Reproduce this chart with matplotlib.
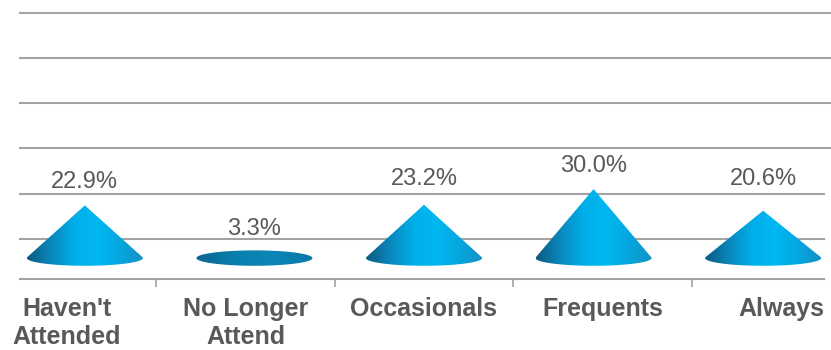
import numpy as np
import matplotlib.pyplot as plt
from matplotlib.patches import Polygon
from matplotlib.colors import LinearSegmentedColormap

categories = ["Haven't\nAttended", "No Longer\nAttend", "Occasionals", "Frequents", "Always"]
values = [22.9, 3.3, 23.2, 30.0, 20.6]
value_labels = ["22.9%", "3.3%", "23.2%", "30.0%", "20.6%"]
wall_ticks = [10, 20, 30, 40, 50, 60]

depth = 0.95      # cones sit on the back plane, a bit narrower than the floor edge
cone_rx = 0.325   # base radius, category units
cone_ry = 3.35    # base ellipse half-height, value units
label_lift = [16.5, 15.8, 18.7, 16.9, 23.0]  # points above the tip, as placed in the original
text_color = '#595959'
grid_color = '#a3a3a3'

cone_cmap = LinearSegmentedColormap.from_list(
    'cone', ['#0b5a80', '#0a86bb', '#00aee8', '#00b8f2', '#06a6de', '#1690c4'])
flat_cmap = LinearSegmentedColormap.from_list(
    'flat', ['#0b6590', '#0a7fae', '#0a86b6', '#0a78a6'])


def wall_to_value(g):
    # back wall gridlines use their own scale
    return -11.3 + 1.965 * g


def cone_outline(cx, h):
    if h <= cone_ry:
        t = np.linspace(0, 2 * np.pi, 120)
        return np.column_stack((cx + cone_rx * np.cos(t), cone_ry * np.sin(t)))
    t0 = np.arcsin(cone_ry / h)
    t = np.linspace(t0, -np.pi - t0, 100)
    pts = np.column_stack((cx + cone_rx * np.cos(t), cone_ry * np.sin(t)))
    return np.vstack((pts, [[cx, h]]))


fig = plt.figure(figsize=(8.31, 3.5), dpi=100)
ax = fig.add_axes([20 / 831, 71 / 350, 804 / 831, 279 / 350])

for g in wall_ticks:
    ax.axhline(wall_to_value(g), xmin=0, xmax=1.0 if g <= 20 else 1.02,
               color=grid_color, lw=1.5, zorder=1, clip_on=False)

for i, v in enumerate(values):
    cx = 2 + depth * (i - 2)
    poly = Polygon(cone_outline(cx, v), closed=True, facecolor='none', edgecolor='none')
    ax.add_patch(poly)
    cmap = flat_cmap if v <= cone_ry else cone_cmap
    im = ax.imshow(np.linspace(0, 1, 256).reshape(1, -1), cmap=cmap, aspect='auto',
                   extent=[cx - cone_rx, cx + cone_rx, -cone_ry, max(v, cone_ry)],
                   interpolation='bilinear', zorder=2)
    im.set_clip_path(poly)
    ax.annotate(value_labels[i], (cx, v), xytext=(0, label_lift[i]), textcoords='offset points',
                ha='center', va='center', fontsize=17, color=text_color,
                family='Liberation Sans')

ax.set_xlim(-0.2633, 4.2409)
ax.set_ylim(-9.1, 112.2)

ax.set_xticks(range(len(categories)))
ax.set_xticklabels(categories, fontsize=18, fontweight='bold', color=text_color,
                   family='Liberation Sans')
ax.set_xticks([i + 0.5 for i in range(len(categories) - 1)], minor=True)
ax.tick_params(axis='x', which='major', length=0, pad=13)
ax.tick_params(axis='x', which='minor', length=5.8, width=1.2, color=grid_color, direction='out')
ax.set_yticks([])
for side in ['left', 'right', 'top']:
    ax.spines[side].set_visible(False)
ax.spines['bottom'].set_color(grid_color)
ax.spines['bottom'].set_linewidth(1.5)

plt.savefig('out.png', dpi=100)
